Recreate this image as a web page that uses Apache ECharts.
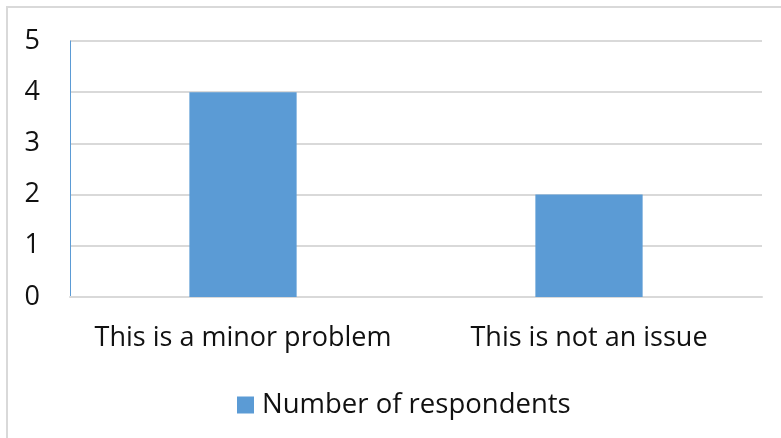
<!DOCTYPE html>
<html>
<head>
<meta charset="utf-8">
<script src="https://cdn.jsdelivr.net/npm/echarts@6/dist/echarts.min.js"></script>
<style>html,body{margin:0;padding:0;background:#fff;}#c{width:781px;height:438px;}</style>
</head>
<body>
<div id="c"></div>
<script>
const categories = ["This is a minor problem", "This is not an issue"];
const seriesName = "Number of respondents";
const values = [4, 2];
const yTicks = [0, 1, 2, 3, 4, 5];

const FONT = "Open Sans";
const chart = echarts.init(document.getElementById('c'), null, {renderer: 'canvas'});
chart.setOption({
  animation: false,
  backgroundColor: '#ffffff',
  textStyle: {fontFamily: FONT},
  graphic: [{
    type: 'rect', silent: true,
    shape: {x: 7, y: 7, width: 782, height: 440},
    style: {fill: 'none', stroke: '#d9d9d9', lineWidth: 2}
  }],
  grid: {left: 70, right: 19, top: 41, bottom: 141, containLabel: false},
  legend: {
    data: [seriesName],
    top: 386, left: 232,
    itemWidth: 17, itemHeight: 17, itemGap: 10,
    icon: 'rect',
    textStyle: {fontSize: 27.5, color: '#111', fontFamily: FONT, padding: [0, 0, 0, 3]}
  },
  xAxis: {
    type: 'category',
    data: categories,
    axisTick: {show: false},
    axisLine: {show: true, lineStyle: {color: '#d9d9d9', width: 2}},
    axisLabel: {fontSize: 27, color: '#111', margin: 28, interval: 0, fontFamily: FONT}
  },
  yAxis: {
    type: 'value',
    min: yTicks[0], max: yTicks[yTicks.length - 1], interval: 1,
    axisLine: {show: true, lineStyle: {color: '#5b9bd5', width: 1}},
    axisTick: {show: false},
    splitLine: {show: true, lineStyle: {color: '#d9d9d9', width: 2}},
    axisLabel: {fontSize: 27, color: '#111', margin: 30, fontFamily: FONT}
  },
  series: [{
    name: seriesName,
    type: 'bar',
    data: values,
    barWidth: '31%',
    itemStyle: {color: '#5b9bd5'}
  }]
});
</script>
</body>
</html>
